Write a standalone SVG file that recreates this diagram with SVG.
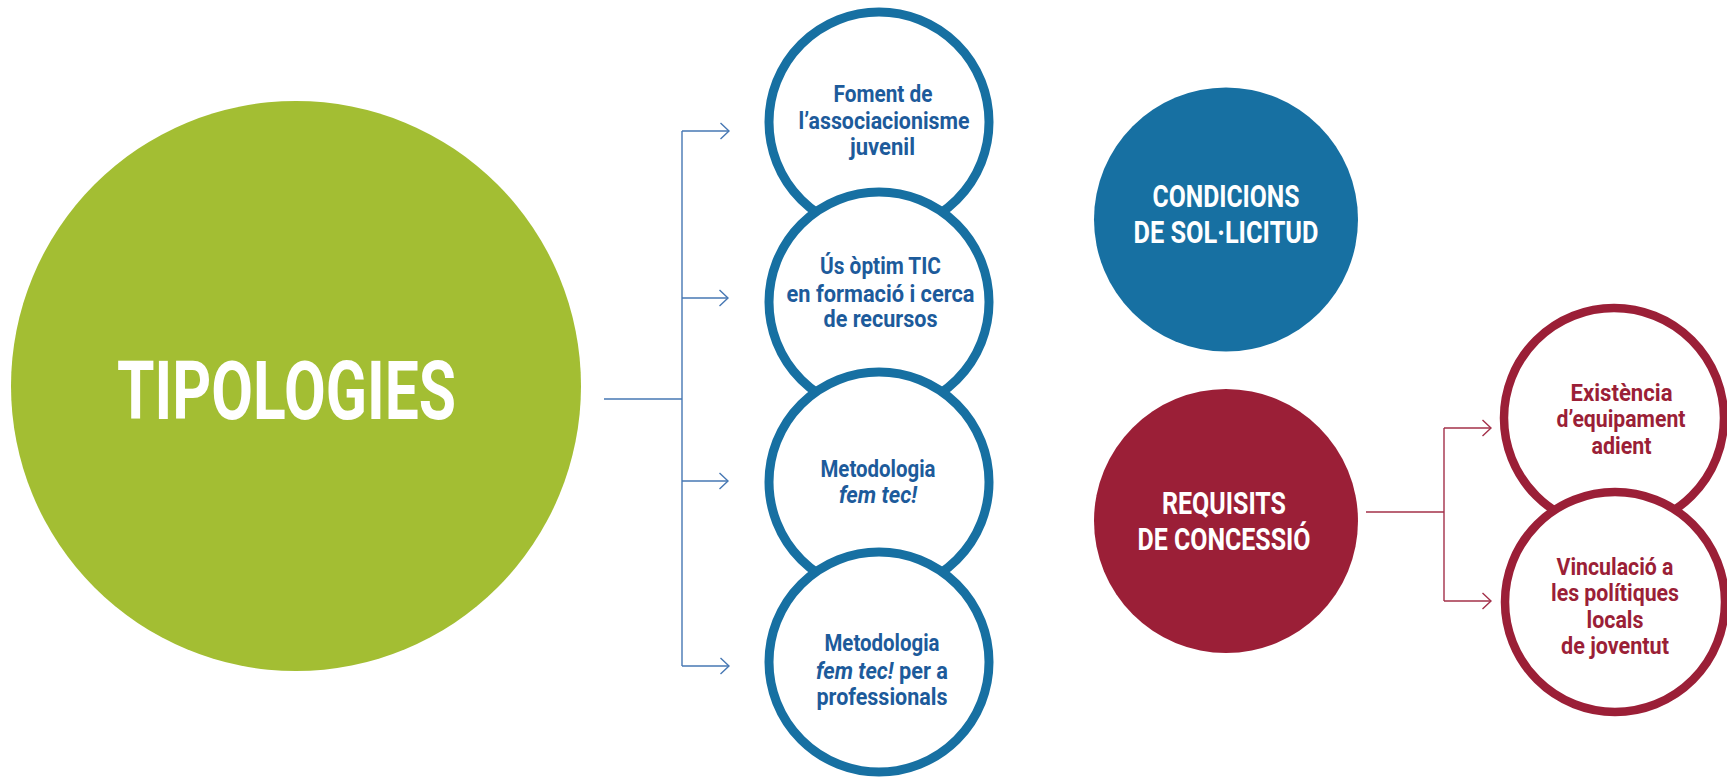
<svg xmlns="http://www.w3.org/2000/svg" width="1727" height="778" viewBox="0 0 1727 778">
<defs>
<style>
.lbl{font-family:Roboto,"Liberation Sans",sans-serif;font-weight:700;text-anchor:middle}
.bt{fill:#1d5b9b;font-size:23px}
.rt{fill:#9b1f37;font-size:23px}
.wt{fill:#ffffff;font-size:32px}
.ring-b{fill:#ffffff;stroke:#1770a2;stroke-width:9}
.ring-r{fill:#ffffff;stroke:#9b1f37;stroke-width:8.5}
.cb{fill:none;stroke:#4677b3;stroke-width:1.4}
.cr{fill:none;stroke:#a33049;stroke-width:1.4}
</style>
<marker id="ab" viewBox="0 0 10 18" refX="9.3" refY="9" markerWidth="10" markerHeight="18" markerUnits="userSpaceOnUse" orient="auto">
<path d="M0.8,1 L9.3,9 L0.8,17" fill="none" stroke="#4677b3" stroke-width="1.4"/>
</marker>
<marker id="ar" viewBox="0 0 10 18" refX="9.3" refY="9" markerWidth="10" markerHeight="18" markerUnits="userSpaceOnUse" orient="auto">
<path d="M0.8,1 L9.3,9 L0.8,17" fill="none" stroke="#a33049" stroke-width="1.4"/>
</marker>
</defs>
<rect width="1727" height="778" fill="#ffffff"/>

<g id="connectors">
<path class="cb" d="M604,399 H682"/>
<path class="cb" d="M682,131 V666"/>
<path class="cb" d="M682,131 H729" marker-end="url(#ab)"/>
<path class="cb" d="M682,298 H728" marker-end="url(#ab)"/>
<path class="cb" d="M682,481 H728" marker-end="url(#ab)"/>
<path class="cb" d="M682,666 H729" marker-end="url(#ab)"/>
<path class="cr" d="M1366,512 H1444"/>
<path class="cr" d="M1444,428 V601"/>
<path class="cr" d="M1444,428 H1491" marker-end="url(#ar)"/>
<path class="cr" d="M1444,601 H1491" marker-end="url(#ar)"/>
</g>

<g id="tipologies">
<circle cx="296" cy="386" r="285" fill="#a3be33"/>
<text class="lbl" x="286.5" y="419" font-size="82" fill="#ffffff" textLength="339" lengthAdjust="spacingAndGlyphs">TIPOLOGIES</text>
</g>

<g id="foment">
<circle class="ring-b" cx="879" cy="122" r="110"/>
<text class="lbl bt" x="883" y="102" textLength="99" lengthAdjust="spacingAndGlyphs">Foment de</text>
<text class="lbl bt" x="884" y="129" textLength="171" lengthAdjust="spacingAndGlyphs">l’associacionisme</text>
<text class="lbl bt" x="882.5" y="155" textLength="65" lengthAdjust="spacingAndGlyphs">juvenil</text>
</g>

<g id="us-optim">
<circle class="ring-b" cx="879" cy="302" r="110"/>
<text class="lbl bt" x="880.5" y="274" textLength="121" lengthAdjust="spacingAndGlyphs">Ús òptim TIC</text>
<text class="lbl bt" x="880.5" y="301.5" textLength="188" lengthAdjust="spacingAndGlyphs">en formació i cerca</text>
<text class="lbl bt" x="880.5" y="326.5" textLength="114" lengthAdjust="spacingAndGlyphs">de recursos</text>
</g>

<g id="metodologia">
<circle class="ring-b" cx="879" cy="482" r="110"/>
<text class="lbl bt" x="878" y="476.5" textLength="115" lengthAdjust="spacingAndGlyphs">Metodologia</text>
<text class="lbl bt" x="878" y="503" font-style="italic" textLength="78" lengthAdjust="spacingAndGlyphs">fem tec!</text>
</g>

<g id="metodologia-professionals">
<circle class="ring-b" cx="879" cy="662" r="110"/>
<text class="lbl bt" x="882" y="651" textLength="115" lengthAdjust="spacingAndGlyphs">Metodologia</text>
<text class="lbl bt" x="882" y="678.5" textLength="132" lengthAdjust="spacingAndGlyphs"><tspan font-style="italic">fem tec!</tspan> per a</text>
<text class="lbl bt" x="882" y="705" textLength="131" lengthAdjust="spacingAndGlyphs">professionals</text>
</g>

<g id="condicions">
<circle cx="1226" cy="219.5" r="132" fill="#1770a2"/>
<text class="lbl wt" x="1226" y="206.5" textLength="147" lengthAdjust="spacingAndGlyphs">CONDICIONS</text>
<text class="lbl wt" x="1226" y="242.5" textLength="185" lengthAdjust="spacingAndGlyphs">DE SOL·LICITUD</text>
</g>

<g id="requisits">
<circle cx="1226" cy="521" r="132" fill="#9b1f37"/>
<text class="lbl wt" x="1224" y="514" textLength="124" lengthAdjust="spacingAndGlyphs">REQUISITS</text>
<text class="lbl wt" x="1224" y="549.5" textLength="173" lengthAdjust="spacingAndGlyphs">DE CONCESSIÓ</text>
</g>

<g id="existencia">
<circle class="ring-r" cx="1614" cy="418" r="110"/>
<text class="lbl rt" x="1621.5" y="400.5" textLength="102" lengthAdjust="spacingAndGlyphs">Existència</text>
<text class="lbl rt" x="1621" y="427" textLength="129" lengthAdjust="spacingAndGlyphs">d’equipament</text>
<text class="lbl rt" x="1621.5" y="454" textLength="60" lengthAdjust="spacingAndGlyphs">adient</text>
</g>

<g id="vinculacio">
<circle class="ring-r" cx="1615" cy="602" r="110"/>
<text class="lbl rt" x="1615" y="575" textLength="117" lengthAdjust="spacingAndGlyphs">Vinculació a</text>
<text class="lbl rt" x="1615" y="601" textLength="128" lengthAdjust="spacingAndGlyphs">les polítiques</text>
<text class="lbl rt" x="1615" y="627.5" textLength="57" lengthAdjust="spacingAndGlyphs">locals</text>
<text class="lbl rt" x="1615" y="653.5" textLength="108" lengthAdjust="spacingAndGlyphs">de joventut</text>
</g>
</svg>
